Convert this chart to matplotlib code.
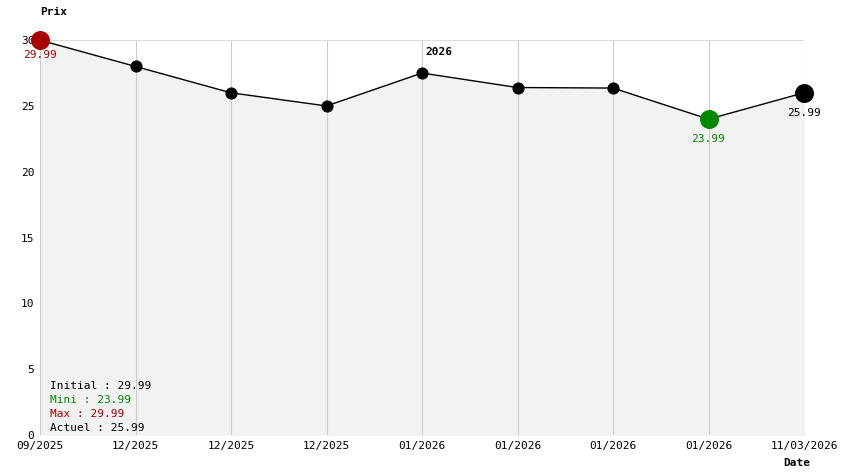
import matplotlib
matplotlib.use("Agg")
import matplotlib.pyplot as plt

labels = ["09/2025","12/2025","12/2025","12/2025","01/2026","01/2026","01/2026","01/2026","11/03/2026"]
prices = [29.99, 27.99, 25.99, 24.99, 27.49, 26.39, 26.35, 23.99, 25.99]
yticks = [0, 5, 10, 15, 20, 25, 30]

plt.rcParams['font.family'] = ['DejaVu Sans Mono']
fig = plt.figure(figsize=(8.44, 4.74), dpi=100)
ax = fig.add_axes([40/844, 1-435/474, 764/844, 395/474])
x = list(range(len(prices)))
ax.fill_between(x, prices, 0, color="#f2f2f2", zorder=0)
for xi in x:
    ax.axvline(xi, color="#cccccc", lw=0.8, zorder=0.5)
ax.axhline(30, color="#dddddd", lw=0.8, zorder=0.5)
ax.plot(x, prices, color="black", lw=1, zorder=2, clip_on=False)
ax.scatter(x[1:-2], prices[1:-2], s=60, color="black", zorder=3, clip_on=False)
ax.scatter([0], [prices[0]], s=160, color="#aa0000", zorder=3, clip_on=False)
ax.scatter([7], [prices[7]], s=160, color="#008800", zorder=3, clip_on=False)
ax.scatter([8], [prices[8]], s=160, color="black", zorder=3, clip_on=False)
ax.text(0, prices[0]-1.1, "29.99", color="#aa0000", ha="center", va="center", fontsize=8)
ax.text(7, prices[7]-1.5, "23.99", color="#008800", ha="center", va="center", fontsize=8)
ax.text(8, prices[8]-1.5, "25.99", color="black", ha="center", va="center", fontsize=8)
ax.text(4.18, prices[4]+1.6, "2026", color="black", ha="center", va="center", fontsize=8, fontweight="bold")
ax.set_xlim(0, 8)
ax.set_ylim(0, 30)
ax.set_xticks(x)
ax.set_xticklabels(labels, fontsize=8)
ax.set_yticks(yticks)
ax.set_yticklabels([str(v) for v in yticks], fontsize=8)
for s in ax.spines.values():
    s.set_visible(False)
ax.tick_params(length=0, pad=4)
fig.text(40/844, 1-12/474, "Prix", fontsize=8, fontweight="bold", va="center")
fig.text(783/844, 1-463/474, "Date", fontsize=8, fontweight="bold", va="center")
info = [("Initial : 29.99", "black"), ("Mini : 23.99", "#008800"), ("Max : 29.99", "#aa0000"), ("Actuel : 25.99", "black")]
for i, (t, c) in enumerate(info):
    fig.text(50/844, 1-(386+14*i)/474, t, color=c, fontsize=8, va="center")
fig.savefig("out.png", dpi=100, facecolor="white")
